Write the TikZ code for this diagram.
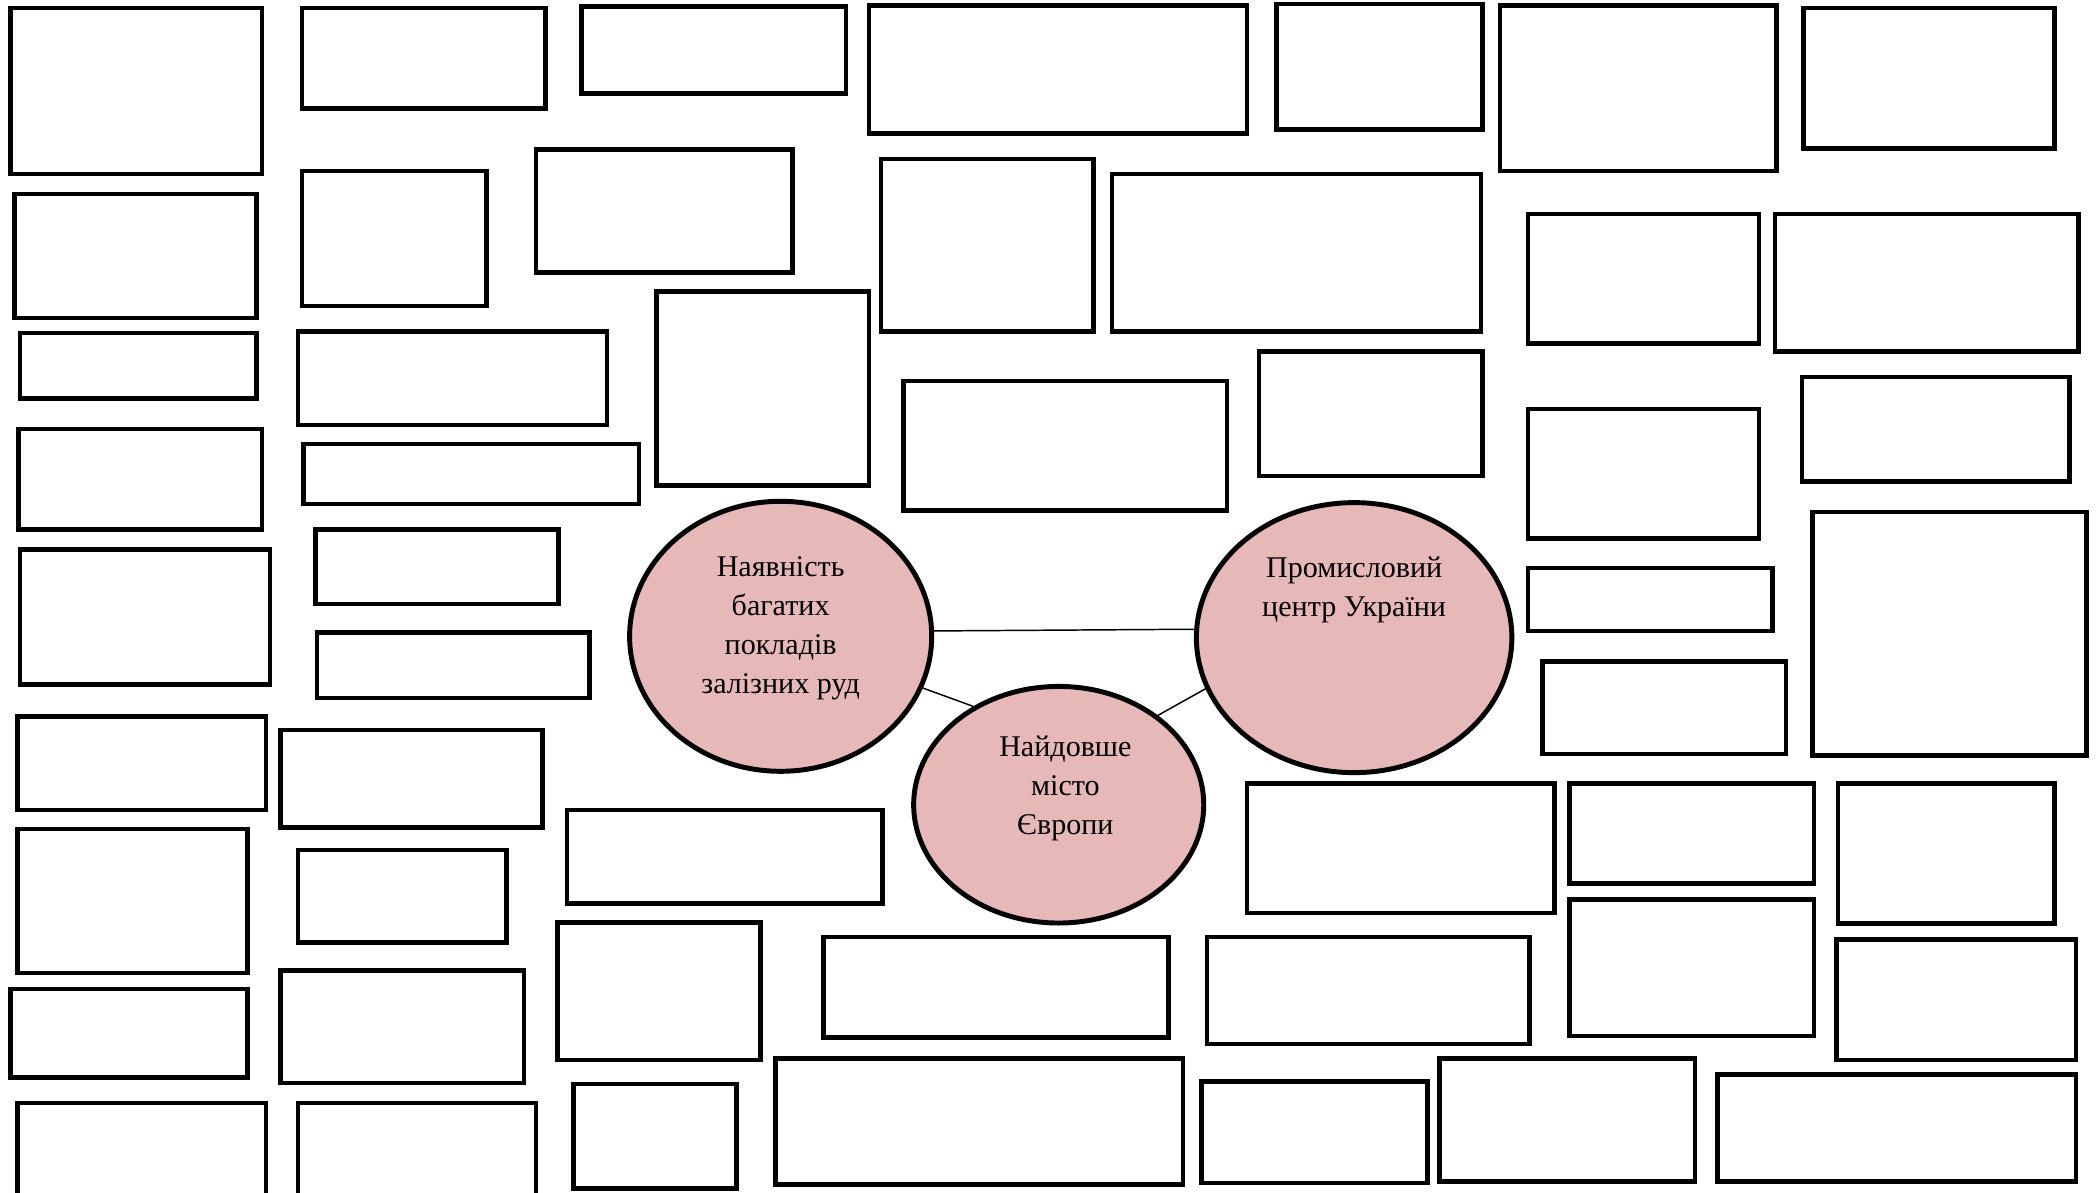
\documentclass[tikz,border=0pt]{standalone}
\usepackage{fontspec}
\setmainfont{Liberation Serif}
\usetikzlibrary{shapes.geometric}
\definecolor{bubblefill}{HTML}{E6B8B7}
\tikzset{
  box/.style={draw=black, line width=3.4pt},
  bubble/.style={ellipse, draw=black, line width=3.7pt, fill=bubblefill, inner sep=0pt},
  lbl/.style={align=center, inner sep=0pt, font=\fontsize{22.5}{29.3}\selectfont},
  conn/.style={draw=black, line width=1.1pt}
}
\begin{document}
\begin{tikzpicture}[x=1pt,y=-1pt]
\useasboundingbox (0,0) rectangle (1568,892);
\clip (0,0) rectangle (1568,892);
\fill[white] (0,0) rectangle (1568,892);
% column 1
\draw[box] (8,6) rectangle (196,130);
\draw[box] (11,145) rectangle (192,238);
\draw[box] (15,249) rectangle (192,298);
\draw[box] (14,321) rectangle (196,396);
\draw[box] (15,411) rectangle (202,512);
\draw[box] (13,536) rectangle (199,606);
\draw[box] (13,620) rectangle (185,728);
\draw[box] (8,740) rectangle (185,806);
\draw[box] (13,825) rectangle (199,896);
% column 2
\draw[box] (226,6) rectangle (408,81);
\draw[box] (226,128) rectangle (364,229);
\draw[box] (223,248) rectangle (454,318);
\draw[box] (227,332) rectangle (478,377);
\draw[box] (236,396) rectangle (418,452);
\draw[box] (237,473) rectangle (441,522);
\draw[box] (210,546) rectangle (406,619);
\draw[box] (223,636) rectangle (379,705);
\draw[box] (210,726) rectangle (392,810);
\draw[box] (223,825) rectangle (401,896);
% column 3
\draw[box] (435,5) rectangle (633,70);
\draw[box] (401,112) rectangle (593,204);
\draw[box] (491,218) rectangle (650,363);
\draw[box] (424,606) rectangle (660,676);
\draw[box] (417,690) rectangle (569,793);
\draw[box] (429,811) rectangle (551,889);
% column 4
\draw[box] (650,4) rectangle (933,100);
\draw[box] (659,119) rectangle (818,248);
\draw[box] (832,130) rectangle (1108,248);
\draw[box] (676,285) rectangle (918,382);
\draw[box] (942,263) rectangle (1109,356);
\draw[box] (616,701) rectangle (874,776);
\draw[box] (580,792) rectangle (885,886);
% right part
\draw[box] (955,3) rectangle (1109,97);
\draw[box] (1122,4) rectangle (1329,128);
\draw[box] (1349,6) rectangle (1537,111);
\draw[box] (1143,160) rectangle (1316,257);
\draw[box] (1328,160) rectangle (1555,263);
\draw[box] (1143,306) rectangle (1316,403);
\draw[box] (1348,282) rectangle (1548,360);
\draw[box] (1143,425) rectangle (1326,472);
\draw[box] (1154,495) rectangle (1336,564);
\draw[box] (1356,383) rectangle (1561,565);
\draw[box] (933,586) rectangle (1163,683);
\draw[box] (1174,586) rectangle (1357,661);
\draw[box] (1375,586) rectangle (1537,691);
\draw[box] (903,701) rectangle (1144,781);
\draw[box] (1174,673) rectangle (1357,775);
\draw[box] (1374,703) rectangle (1553,793);
\draw[box] (899,809) rectangle (1068,885);
\draw[box] (1077,792) rectangle (1268,884);
\draw[box] (1285,804) rectangle (1553,884);
% bubbles
\node[bubble, minimum width=226pt, minimum height=202pt] (A) at (584,476) {};
\node[bubble, minimum width=236pt, minimum height=202pt] (B) at (1013,477) {};
\node[bubble, minimum width=217pt, minimum height=177pt] (C) at (792,602) {};
\node[lbl] (tA) at (584,470) {Наявність\\багатих\\покладів\\залізних руд};
\node[lbl] (tB) at (1013,441) {Промисловий\\центр України};
\node[lbl] (tC) at (797,590) {Найдовше\\місто\\Європи};
% connectors
\draw[conn] (A.2.3) -- (B.177.3);
\draw[conn] (A.-20) -- (C.131);
\draw[conn] (C.42) -- (B.-161);
\end{tikzpicture}
\end{document}
